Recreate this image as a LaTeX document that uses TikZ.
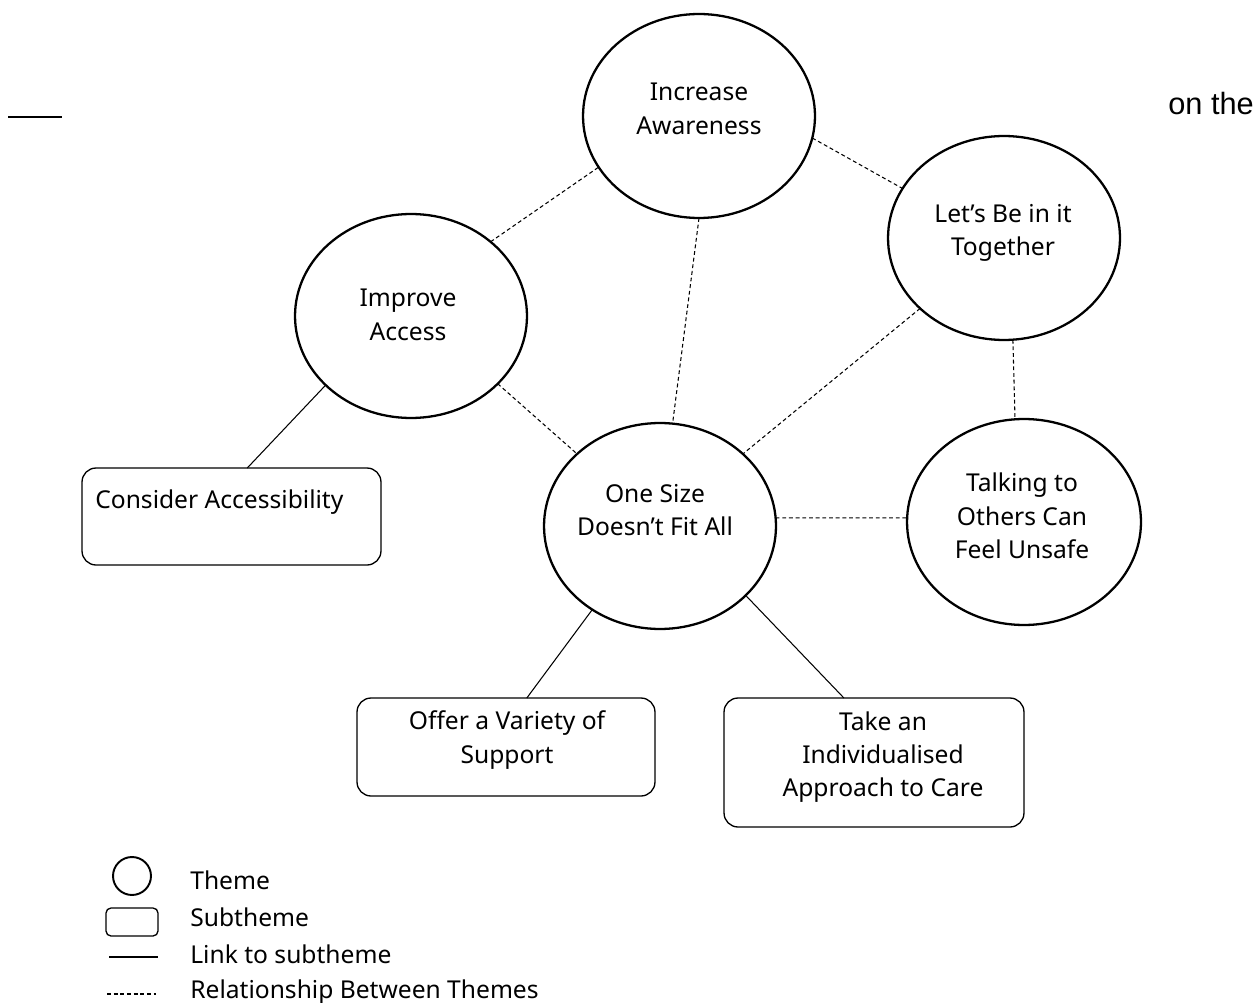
\documentclass[tikz,border=0pt]{standalone}
\usepackage{fontspec}
\setmainfont{Noto Sans}
\newfontfamily\arialfont{Liberation Sans}
\usetikzlibrary{shapes.geometric}
\begin{document}
\begin{tikzpicture}[x=0.02cm, y=-0.02cm,
  theme/.style={ellipse, draw, line width=1.3pt, minimum width=4.64cm, minimum height=4.08cm, inner sep=0pt, outer sep=0pt},
  ttext/.style={align=center, font=\fontsize{14}{19}\selectfont, inner sep=0pt},
  subbox/.style={rectangle, draw, rounded corners=0.28cm, line width=0.75pt, inner sep=0pt, outer sep=0pt},
  link/.style={line width=0.6pt},
  rel/.style={line width=0.6pt, dash pattern=on 2.2pt off 1.6pt},
  lgtext/.style={anchor=west, font=\fontsize{14}{17}\selectfont, inner sep=0pt}]

\useasboundingbox (0,0) rectangle (1257,1003);

% themes
\node[theme] (aw) at (699,116) {};
\node[ttext] (awt) at (699,109) {Increase\\Awareness};
\node[theme] (lb) at (1004,238) {};
\node[ttext] (lbt) at (1003,233) {Let’s Be in it\\Together};
\node[theme] (ia) at (411,316) {};
\node[ttext] (iat) at (408,315) {Improve\\Access};
\node[theme, minimum height=4.12cm] (os) at (660,526) {};
\node[ttext] (ost) at (655,510) {One Size\\Doesn’t Fit All};
\node[theme, minimum width=4.68cm, minimum height=4.12cm] (tk) at (1024,522) {};
\node[ttext] (tkt) at (1022,516) {Talking to\\Others Can\\Feel Unsafe};

% subthemes
\node[subbox, minimum width=5.98cm, minimum height=1.94cm] (con) at (231.5,516.5) {};
\node[ttext, anchor=west] (cont) at (95,502) {Consider Accessibility};
\node[subbox, minimum width=5.96cm, minimum height=1.96cm] (offer) at (506,747) {};
\node[ttext] (offert) at (507,740) {Offer a Variety of\\Support};
\node[subbox, minimum width=6.0cm, minimum height=2.58cm] (take) at (874,762.5) {};
\node[ttext] (taket) at (883,757) {Take an\\Individualised\\Approach to Care};

% relationships between themes
\draw[rel] (ia.43.5) -- (aw.207.9);
\draw[rel] (aw.349.6) -- (lb.154.5);
\draw[rel] (aw.270.5) -- (os.83);
\draw[rel] (ia.322.8) -- (os.139.8);
\draw[rel] (lb.220) -- (os.41.9);
\draw[rel] (lb.275.5) -- (tk.95.5);
\draw[rel] (os.4) -- (tk.178);

% links to subthemes
\draw[link] (ia.219.3) -- (con.72.3);
\draw[link] (os.231) -- (offer.67.8);
\draw[link] (os.321.3) -- (take.115.7);

% stray marks
\coordinate (tl1) at (8,117);
\coordinate (tl2) at (62,117);
\draw[line width=0.8pt] (tl1) -- (tl2);
\node[anchor=base west, inner sep=0pt, font=\arialfont\fontsize{17.5}{20}\selectfont] (onthe) at (1168,115) {on the};

% legend
\node[ellipse, draw, line width=1.1pt, minimum size=0.76cm, inner sep=0pt] (lgc) at (132,876) {};
\node[rectangle, draw, rounded corners=0.1cm, line width=0.75pt, minimum width=1.04cm, minimum height=0.56cm, inner sep=0pt] (lgr) at (132,922) {};
\coordinate (lgs1) at (109,957);
\coordinate (lgs2) at (158,957);
\draw[link] (lgs1) -- (lgs2);
\coordinate (lgd1) at (107,994);
\coordinate (lgd2) at (156,994);
\draw[rel] (lgd1) -- (lgd2);
\node[lgtext] (lt1) at (190,880) {Theme};
\node[lgtext] (lt2) at (190,917) {Subtheme};
\node[lgtext] (lt3) at (190,954) {Link to subtheme};
\node[lgtext] (lt4) at (190,992) {Relationship Between Themes};
\end{tikzpicture}
\end{document}
